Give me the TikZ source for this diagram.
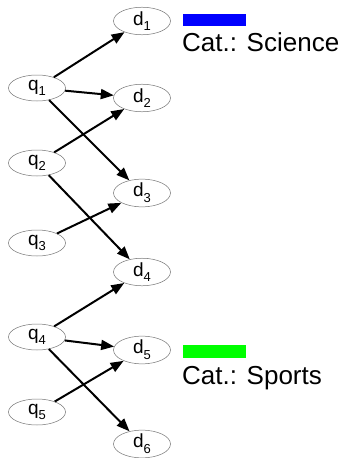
\documentclass[tikz,border=0pt]{standalone}
\usepackage{fontspec}
\setmainfont{Liberation Sans}
\usetikzlibrary{shapes.geometric,arrows.meta}
\newcommand{\lbl}[2]{#1\raisebox{-0.3em}{\fontsize{13}{13}\selectfont #2}}
\begin{document}
\begin{tikzpicture}[x=1pt,y=-1pt,
  doc/.style={ellipse,draw=black!55,line width=0.5pt,minimum width=57pt,minimum height=26pt,inner sep=0pt,font=\fontsize{19}{19}\selectfont},
  link/.style={line width=2pt,-{Triangle[length=13pt,width=10pt]}},
  cat/.style={anchor=base west,inner sep=0pt,font=\fontsize{26}{26}\selectfont}]
\useasboundingbox (0,0) rectangle (343,458);
\node[doc] (q1) at (37,88) {\lbl{q}{1}};
\node[doc] (q2) at (37,163) {\lbl{q}{2}};
\node[doc] (q3) at (37,243) {\lbl{q}{3}};
\node[doc] (q4) at (37,337) {\lbl{q}{4}};
\node[doc] (q5) at (37,412) {\lbl{q}{5}};
\node[doc] (d1) at (142,21) {\lbl{d}{1}};
\node[doc] (d2) at (142,98) {\lbl{d}{2}};
\node[doc] (d3) at (142,193) {\lbl{d}{3}};
\node[doc] (d4) at (142,272) {\lbl{d}{4}};
\node[doc] (d5) at (142,350) {\lbl{d}{5}};
\node[doc] (d6) at (142,444) {\lbl{d}{6}};
\draw[link] (q1) -- (d1);
\draw[link] (q1) -- (d2);
\draw[link] (q1) -- (d3);
\draw[link] (q2) -- (d2);
\draw[link] (q2) -- (d4);
\draw[link] (q3) -- (d3);
\draw[link] (q4) -- (d4);
\draw[link] (q4) -- (d5);
\draw[link] (q4) -- (d6);
\draw[link] (q5) -- (d5);
\fill[blue] (183,14) rectangle (246,26);
\node[cat] (sci) at (182,51) {Cat.: Science};
\fill[green] (183,345) rectangle (246,358);
\node[cat] (spo) at (182,384) {Cat.: Sports};
\end{tikzpicture}
\end{document}
